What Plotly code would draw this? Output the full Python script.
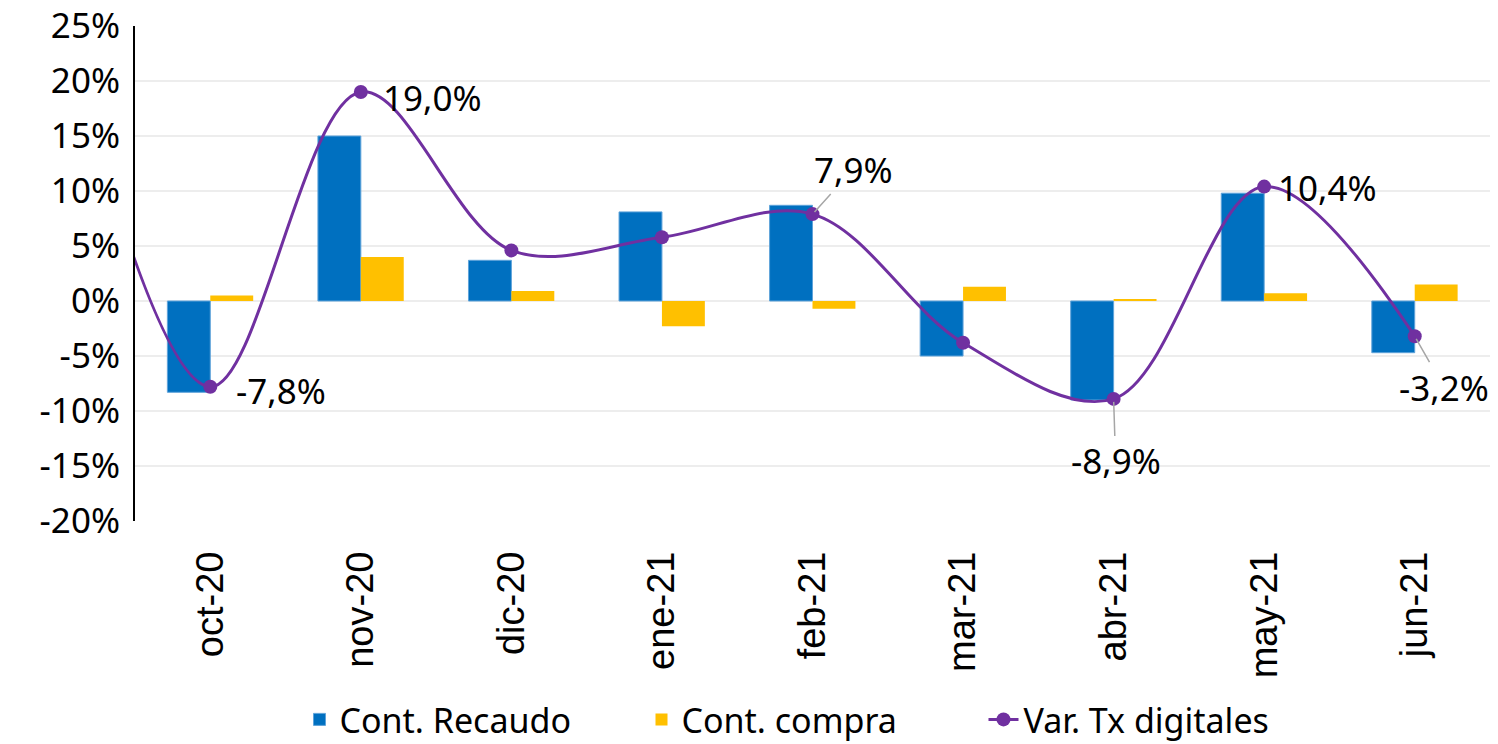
import plotly.graph_objects as go

categories = ["oct-20", "nov-20", "dic-20", "ene-21", "feb-21", "mar-21", "abr-21", "may-21", "jun-21"]
cont_recaudo = [-8.3, 15.0, 3.7, 8.1, 8.7, -5.0, -9.0, 9.8, -4.7]
cont_compra = [0.5, 4.0, 0.9, -2.3, -0.7, 1.3, 0.1, 0.7, 1.5]
var_tx = [-7.8, 19.0, 4.6, 5.8, 7.9, -3.8, -8.9, 10.4, -3.2]
# previous month (sep-20), only visible as the line entering at the left edge
var_tx_prev = 27.0
y_ticks = [-20, -15, -10, -5, 0, 5, 10, 15, 20, 25]

# which points carry a label: (index, x offset px, y offset px, leader line)
labels = [(0, 71, 4, False), (1, 72, 5, False), (4, 41, -45, True),
          (6, 2, 62, True), (7, 63, 1, False), (8, 29, 51, True)]

xs = list(range(len(categories)))
BLUE, YELLOW, PURPLE = "#0070C0", "#FFC000", "#7030A0"
FONT = "Noto Sans"

fig = go.Figure()
fig.add_trace(go.Bar(x=xs, y=cont_recaudo, name="Cont. Recaudo",
                     marker=dict(color=BLUE, line=dict(color="#5FA3DA", width=1))))
fig.add_trace(go.Bar(x=xs, y=cont_compra, name="Cont. compra",
                     marker=dict(color=YELLOW, line=dict(width=0))))
fig.add_trace(go.Scatter(x=[-1] + xs, y=[var_tx_prev] + var_tx, name="Var. Tx digitales",
                         mode="lines+markers",
                         line=dict(color=PURPLE, width=3, shape="spline", smoothing=1.0),
                         marker=dict(color=PURPLE, size=14)))

def fmt(v):
    return f"{v:.1f}%".replace(".", ",")

for i, dx, dy, leader in labels:
    if leader:
        fig.add_annotation(x=xs[i], y=var_tx[i], text=fmt(var_tx[i]), showarrow=True,
                           arrowhead=0, arrowwidth=1.5, arrowcolor="#A6A6A6",
                           ax=dx, ay=dy, standoff=3,
                           font=dict(family=FONT, size=35, color="black"))
    else:
        fig.add_annotation(x=xs[i], y=var_tx[i], text=fmt(var_tx[i]), showarrow=False,
                           xshift=dx, yshift=-dy,
                           font=dict(family=FONT, size=35, color="black"))

# page body has an 8px margin, so the figure is sized/margined to compensate
fig.update_layout(
    width=1490, height=736,
    margin=dict(l=127, r=8, t=18, b=223, autoexpand=False),
    plot_bgcolor="white", paper_bgcolor="white",
    barmode="group", bargap=0.43, bargroupgap=0,
    showlegend=True,
    legend=dict(orientation="h", x=0.5, xanchor="center", y=-0.343, yanchor="top",
                font=dict(family=FONT, size=34, color="black"), itemwidth=30,
                entrywidth=297, entrywidthmode="pixels", traceorder="normal"),
    font=dict(family=FONT, color="black"),
)
fig.update_xaxes(range=[-0.5, len(categories) - 0.5], tickmode="array", tickvals=xs,
                 ticktext=categories, tickangle=-90, showgrid=False, zeroline=False,
                 showline=False, ticks="", ticklabelstandoff=22, automargin=False,
                 ticklabeloverflow="allow",
                 tickfont=dict(family="Liberation Sans", size=38, color="black"))
fig.update_yaxes(range=[-20, 25], tickmode="array", tickvals=y_ticks,
                 ticktext=[f"{t}%" for t in y_ticks], showgrid=True, gridcolor="#EDEDED",
                 gridwidth=2, zeroline=False, showline=True, linecolor="black", linewidth=2,
                 ticks="", ticklabelstandoff=6, automargin=False,
                 ticklabeloverflow="allow",
                 tickfont=dict(family=FONT, size=35, color="black"))

fig.write_html("out.html")
